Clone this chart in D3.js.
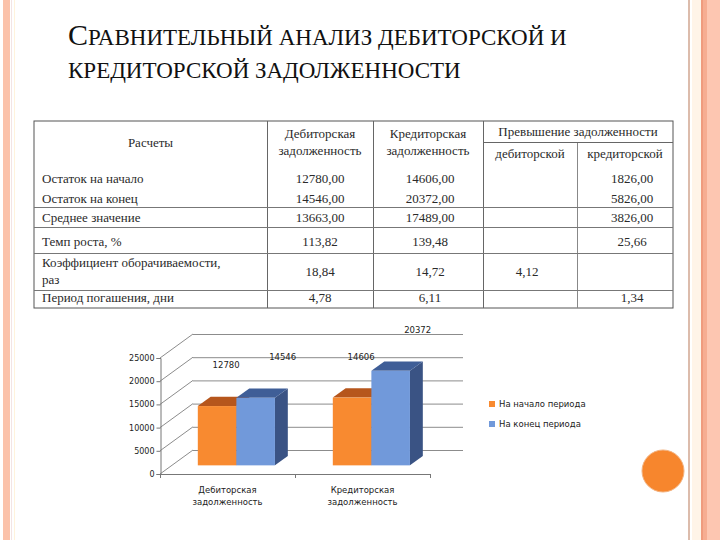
<!DOCTYPE html>
<html>
<head>
<meta charset="utf-8">
<script src="https://cdn.jsdelivr.net/npm/d3@7"></script>
<style>
body { margin: 0; background: #fff; }
svg { display: block; }
</style>
</head>
<body>
<script>
// table data
var rowLabels = [["Остаток на начало"], ["Остаток на конец"], ["Среднее значение"], ["Темп роста, %"],
                 ["Коэффициент оборачиваемости,", "раз"], ["Период погашения,  дни"]];
var debValues = ["12780,00", "14546,00", "13663,00", "113,82", "18,84", "4,78"];
var credValues = ["14606,00", "20372,00", "17489,00", "139,48", "14,72", "6,11"];
var excessDeb = ["", "", "", "", "4,12", ""];
var excessCred = ["1826,00", "5826,00", "3826,00", "25,66", "", "1,34"];

// chart data
var categories = [["Дебиторская", "задолженность"], ["Кредиторская", "задолженность"]];
var seriesNames = ["На начало периода", "На конец периода"];
var startValues = [12780, 14606];
var endValues = [14546, 20372];
var yTicks = [0, 5000, 10000, 15000, 20000, 25000];

var SERIF = "'Liberation Serif', 'Times New Roman', serif";
var SANS = "'DejaVu Sans', Verdana, sans-serif";

function init(){
    var w = 720, h = 540;
    var svg = d3.select("body").append("svg")
        .attr("width", w)
        .attr("height", h);

    // slide border stripes
    svg.append("rect").attr("x", 3).attr("y", 0).attr("width", 7).attr("height", h).attr("fill", "#fbc2aa");
    svg.append("rect").attr("x", 11).attr("y", 0).attr("width", 1).attr("height", h).attr("fill", "#f3e4e4");
    svg.append("rect").attr("x", 14).attr("y", 0).attr("width", 1).attr("height", h).attr("fill", "#fff3dc");
    svg.append("rect").attr("x", 688).attr("y", 0).attr("width", 2).attr("height", h).attr("fill", "#dcbcac");
    svg.append("rect").attr("x", 692).attr("y", 0).attr("width", 9).attr("height", h).attr("fill", "#fff4e8");
    svg.append("rect").attr("x", 701).attr("y", 0).attr("width", 2).attr("height", h).attr("fill", "#ef9b7e");
    svg.append("rect").attr("x", 703).attr("y", 0).attr("width", 4).attr("height", h).attr("fill", "#f6ad92");
    svg.append("rect").attr("x", 707).attr("y", 0).attr("width", 13).attr("height", h).attr("fill", "#fdc6b1");
    svg.append("circle").attr("cx", 663).attr("cy", 471).attr("r", 21)
        .attr("fill", "#f7862d").attr("stroke", "#f3b27f").attr("stroke-width", 1);

    // title
    var t1 = svg.append("text").attr("x", 68).attr("y", 45).attr("fill", "#111")
        .style("font-family", SERIF);
    t1.append("tspan").style("font-size", "30px").text("С");
    t1.append("tspan").style("font-size", "23px").text("РАВНИТЕЛЬНЫЙ АНАЛИЗ ДЕБИТОРСКОЙ И");
    svg.append("text").attr("x", 68).attr("y", 78).attr("fill", "#111")
        .style("font-family", SERIF).style("font-size", "23px")
        .text("КРЕДИТОРСКОЙ ЗАДОЛЖЕННОСТИ");

    // ---- table ----
    var colX = [34, 267, 373, 483, 577, 673];
    var tTop = 121, tBottom = 308;
    var rowLines = [207, 227, 253, 290];
    var rowBase = [183, 203, 222, 246, 276, 302];
    var tbl = svg.append("g");

    tbl.append("rect").attr("x", colX[0]).attr("y", tTop)
        .attr("width", colX[5] - colX[0]).attr("height", tBottom - tTop)
        .attr("fill", "none").attr("stroke", "#555");
    [1, 2, 3].forEach(function(i){
        tbl.append("line").attr("x1", colX[i] + 0.5).attr("x2", colX[i] + 0.5)
            .attr("y1", tTop).attr("y2", tBottom).attr("stroke", "#666");
    });
    tbl.append("line").attr("x1", colX[4] + 0.5).attr("x2", colX[4] + 0.5)
        .attr("y1", 142).attr("y2", tBottom).attr("stroke", "#888");
    tbl.append("line").attr("x1", colX[3]).attr("x2", colX[5])
        .attr("y1", 142.5).attr("y2", 142.5).attr("stroke", "#666");
    rowLines.forEach(function(y){
        tbl.append("line").attr("x1", colX[0]).attr("x2", colX[5])
            .attr("y1", y + 0.5).attr("y2", y + 0.5).attr("stroke", "#777");
    });

    function tableText(x, y, s, anchor){
        tbl.append("text").attr("x", x).attr("y", y)
            .attr("text-anchor", anchor || "middle")
            .attr("fill", "#2a2a2a")
            .style("font-family", SERIF).style("font-size", "13px")
            .text(s);
    }
    // header
    tableText((colX[0] + colX[1]) / 2, 147, "Расчеты");
    tableText((colX[1] + colX[2]) / 2, 138, "Дебиторская");
    tableText((colX[1] + colX[2]) / 2, 155, "задолженность");
    tableText((colX[2] + colX[3]) / 2, 138, "Кредиторская");
    tableText((colX[2] + colX[3]) / 2, 155, "задолженность");
    tableText((colX[3] + colX[5]) / 2, 136, "Превышение задолженности");
    tableText((colX[3] + colX[4]) / 2, 158, "дебиторской");
    tableText((colX[4] + colX[5]) / 2, 158, "кредиторской");

    // body rows
    rowLabels.forEach(function(lines, i){
        var y0 = lines.length > 1 ? rowBase[i] - 9 : rowBase[i];
        lines.forEach(function(s, j){
            tableText(42, y0 + j * 17, s, "start");
        });
        tableText((colX[1] + colX[2]) / 2, rowBase[i], debValues[i]);
        tableText((colX[2] + colX[3]) / 2 + 2, rowBase[i], credValues[i]);
        tableText((colX[3] + colX[4]) / 2 - 3, rowBase[i], excessDeb[i]);
        tableText((colX[4] + colX[5]) / 2 + 7, rowBase[i], excessCred[i]);
    });

    // ---- 3D bar chart ----
    var front0 = 160, front1 = 430;
    var depthX = 33, depthY = -24;
    var barF1 = 0.36, barF2 = 0.75;

    var yScale = d3.scaleLinear().domain([0, 25000]).range([474, 358]);
    var x0 = d3.scaleBand().domain(d3.range(categories.length)).range([front0, front1]);
    var x1 = d3.scaleBand().domain(d3.range(seriesNames.length))
        .range([0, x0.bandwidth()]).paddingInner(0).paddingOuter(0.75);

    var chart = svg.append("g");
    var grid = "#8c8c8c";

    // walls: diagonals and back gridlines
    chart.selectAll(".diag").data(yTicks).enter().append("line")
        .attr("x1", front0).attr("y1", function(d){ return yScale(d); })
        .attr("x2", front0 + depthX).attr("y2", function(d){ return yScale(d) + depthY; })
        .attr("stroke", grid);
    chart.selectAll(".back").data(yTicks).enter().append("line")
        .attr("x1", front0 + depthX).attr("y1", function(d){ return yScale(d) + depthY + 0.5; })
        .attr("x2", front1 + depthX).attr("y2", function(d){ return yScale(d) + depthY + 0.5; })
        .attr("stroke", grid);

    // front axes
    var yAxis = d3.axisLeft(yScale).tickValues(yTicks).tickSize(4).tickPadding(2)
        .tickFormat(d3.format("d"));
    var yg = chart.append("g").attr("transform", "translate(" + (front0 + 0.5) + ",0)").call(yAxis);
    yg.select(".domain").attr("stroke", "#777");
    yg.selectAll(".tick line").attr("stroke", "#777");
    yg.selectAll("text").attr("fill", "#222")
        .style("font-family", SANS).style("font-size", "8px");

    chart.append("line").attr("x1", front0).attr("x2", front1)
        .attr("y1", yScale(0) + 0.5).attr("y2", yScale(0) + 0.5).attr("stroke", "#777");
    [0, 1, 2].forEach(function(i){
        var xx = i < 2 ? x0(i) : front1;
        chart.append("line").attr("x1", xx + 0.5).attr("x2", xx + 0.5)
            .attr("y1", yScale(0)).attr("y2", yScale(0) + 4).attr("stroke", "#777");
    });

    // bars
    var colors = [
        { front: "#f88a30", top: "#b6561c", side: "#9c4716" },
        { front: "#7199da", top: "#3f5e97", side: "#3a5384" }
    ];
    var bars = [];
    categories.forEach(function(c, i){
        bars.push({ cat: i, s: 0, v: startValues[i] });
        bars.push({ cat: i, s: 1, v: endValues[i] });
    });
    var bw = x1.bandwidth();
    var fdx = depthX * barF1 - 3, fdy = depthY * barF1;
    var ddx = depthX * (barF2 - barF1), ddy = depthY * (barF2 - barF1);

    var bg = chart.selectAll(".bar").data(bars).enter().append("g");
    bg.append("path")
        .attr("fill", function(d){ return colors[d.s].side; })
        .attr("d", function(d){
            var x = x0(d.cat) + x1(d.s) + fdx + bw, yt = yScale(d.v) + fdy, yb = yScale(0) + fdy;
            return "M" + x + "," + yt + "L" + (x + ddx) + "," + (yt + ddy) + "L" + (x + ddx) + "," + (yb + ddy) + "L" + x + "," + yb + "Z";
        });
    bg.append("path")
        .attr("fill", function(d){ return colors[d.s].top; })
        .attr("d", function(d){
            var x = x0(d.cat) + x1(d.s) + fdx, yt = yScale(d.v) + fdy;
            return "M" + x + "," + yt + "L" + (x + bw) + "," + yt + "L" + (x + bw + ddx) + "," + (yt + ddy) + "L" + (x + ddx) + "," + (yt + ddy) + "Z";
        });
    bg.append("rect")
        .attr("fill", function(d){ return colors[d.s].front; })
        .attr("x", function(d){ return x0(d.cat) + x1(d.s) + fdx; })
        .attr("y", function(d){ return yScale(d.v) + fdy; })
        .attr("width", bw)
        .attr("height", function(d){ return yScale(0) - yScale(d.v); });

    // value labels (floating above and to the right, as in the 3D chart)
    chart.selectAll(".vlabel").data(bars).enter().append("text")
        .attr("x", function(d){ return x0(d.cat) + x1(d.s) + bw / 2 + fdx + 9 + d.s * 18; })
        .attr("y", function(d){ return yScale(d.v) + fdy - 38; })
        .attr("text-anchor", "middle")
        .attr("fill", "#222")
        .style("font-family", SANS).style("font-size", "8.5px")
        .text(function(d){ return d.v; });

    // category labels
    categories.forEach(function(lines, i){
        lines.forEach(function(s, j){
            chart.append("text")
                .attr("x", x0(i) + x0.bandwidth() / 2)
                .attr("y", 493 + j * 12)
                .attr("text-anchor", "middle")
                .attr("fill", "#222")
                .style("font-family", SANS).style("font-size", "8.5px")
                .text(s);
        });
    });

    // legend
    var lg = chart.selectAll(".legend").data(seriesNames).enter().append("g")
        .attr("transform", function(d, i){ return "translate(489," + (401 + i * 20) + ")"; });
    lg.append("rect").attr("width", 6).attr("height", 6)
        .attr("fill", function(d, i){ return colors[i].front; });
    lg.append("text").attr("x", 10).attr("y", 6)
        .attr("fill", "#222")
        .style("font-family", SANS).style("font-size", "8.5px")
        .text(function(d){ return d; });
}
window.onload = init;
</script>
</body>
</html>
